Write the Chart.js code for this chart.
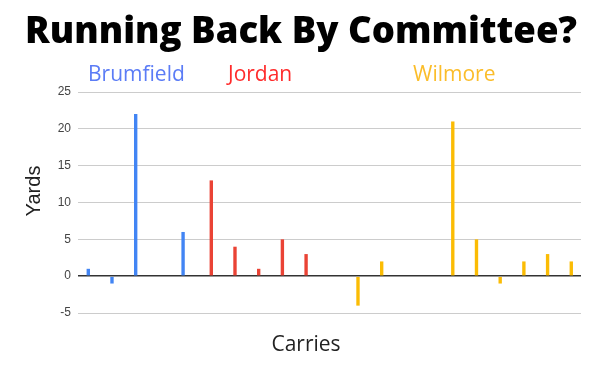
<!DOCTYPE html>
<html>
<head>
<meta charset="utf-8">
<script src="https://cdn.jsdelivr.net/npm/chart.js@4"></script>
<style>
  html, body { margin: 0; padding: 0; background: #fff; }
  #wrap { width: 600px; height: 371px; }
</style>
</head>
<body>
<div id="wrap"><canvas id="chart" width="600" height="371"></canvas></div>
<script>
// carry number, one per rush
const carries = [1, 2, 3, 4, 5, 6, 7, 8, 9, 10, 11, 12, 13, 14, 15, 16, 17, 18, 19, 20, 21];
// yards per carry, null where another back had the ball
const brumfield = [1, -1, 22, 0, 6, null, null, null, null, null, null, null, null, null, null, null, null, null, null, null, null];
const jordan = [null, null, null, null, null, 13, 4, 1, 5, 3, 0, null, null, null, null, null, null, null, null, null, null];
const wilmore = [null, null, null, null, null, null, null, null, null, null, null, -4, 2, 0, 0, 21, 5, -1, 2, 3, 2];
const yTicks = [-5, 0, 5, 10, 15, 20, 25];

const title = "Running Back By Committee?";
const names = ["Brumfield", "Jordan", "Wilmore"];
const colors = ["#4285F4", "#EA4335", "#FBBC04"];
const nameColors = ["#5b7cf6", "#ff2b2b", "#fbbd2a"];

const textPlugin = {
  id: "texts",
  afterDraw(chart) {
    const ctx = chart.ctx;
    ctx.save();
    ctx.textBaseline = "alphabetic";

    ctx.fillStyle = "#000";
    ctx.font = '800 36.5px "Open Sans"';
    ctx.textAlign = "center";
    ctx.fillText(title, 301, 43);

    ctx.font = '400 21px "Open Sans"';
    ctx.textAlign = "left";
    const nameX = [88, 228, 413];
    names.forEach((n, i) => {
      ctx.fillStyle = nameColors[i];
      ctx.fillText(n, nameX[i], 81);
    });

    ctx.fillStyle = "#222";
    ctx.textAlign = "center";
    ctx.font = '400 21px "Open Sans"';
    ctx.fillText("Carries", 306, 351);

    ctx.translate(40, 191);
    ctx.rotate(-Math.PI / 2);
    ctx.font = '20px "Liberation Sans", Arial, sans-serif';
    ctx.fillText("Yards", 0, 0);
    ctx.restore();
  }
};

const datasets = [brumfield, jordan, wilmore].map((d, i) => ({
  label: names[i],
  data: d,
  backgroundColor: colors[i],
  borderWidth: 0,
  categoryPercentage: 0.57,
  barPercentage: 0.75
}));

new Chart(document.getElementById("chart"), {
  type: "bar",
  data: {
    labels: carries,
    datasets: datasets
  },
  options: {
    responsive: false,
    animation: false,
    layout: {
      padding: { top: 92, right: 19, bottom: 58, left: 0 }
    },
    plugins: {
      legend: { display: false },
      tooltip: { enabled: false }
    },
    scales: {
      x: {
        type: "linear",
        display: false,
        offset: false,
        grid: { offset: false },
        min: 0.376,
        max: 21.6,
        ticks: { stepSize: 1, includeBounds: false }
      },
      y: {
        min: -5,
        max: 25,
        afterFit(scale) { scale.width = 78; },
        afterBuildTicks(scale) { scale.ticks = yTicks.map(v => ({ value: v })); },
        border: { display: false },
        grid: {
          drawTicks: false,
          color: (c) => (c.tick && c.tick.value === 0 ? "#333" : "#ccc"),
          lineWidth: (c) => (c.tick && c.tick.value === 0 ? 1.5 : 1)
        },
        ticks: {
          padding: 7,
          color: "#444",
          font: { family: '"Liberation Sans", Arial, sans-serif', size: 12 }
        }
      }
    }
  },
  plugins: [textPlugin]
});
</script>
</body>
</html>
